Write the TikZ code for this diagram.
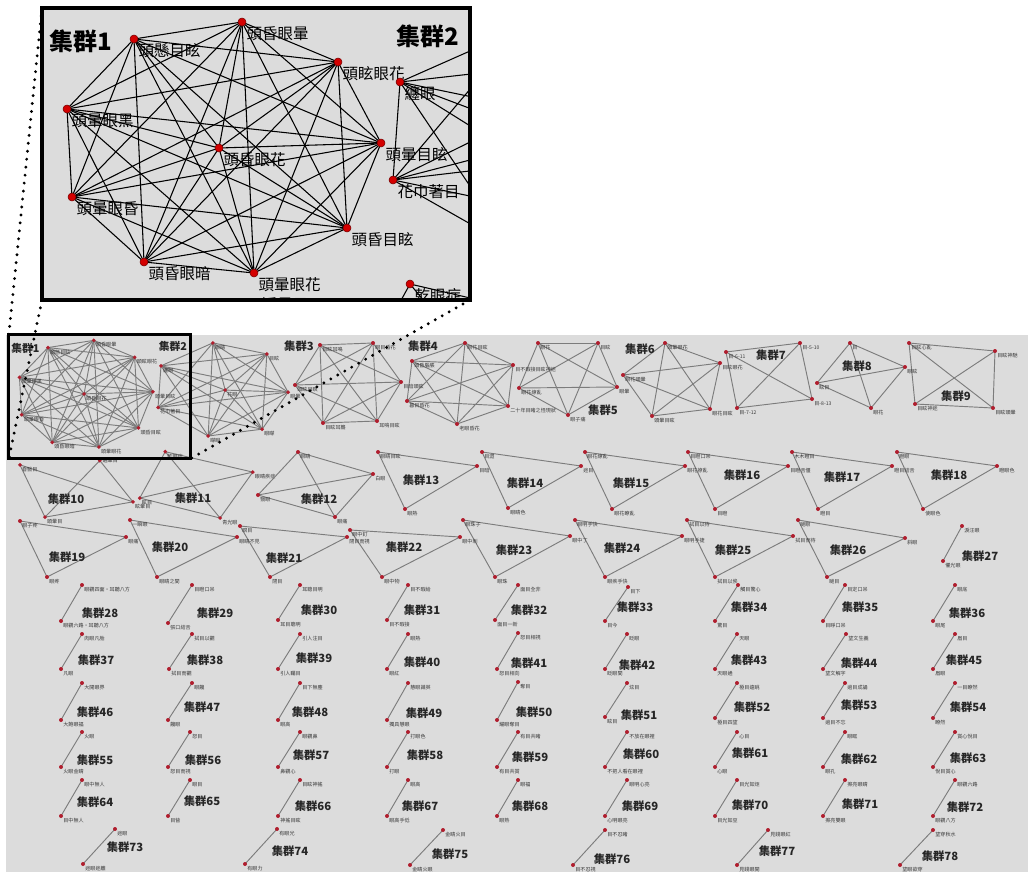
\documentclass[tikz,border=0pt]{standalone}
\usepackage{fontspec}
\newfontfamily\cjk{Noto Sans CJK TC}
\definecolor{pg}{HTML}{DCDCDC}
\definecolor{dred}{HTML}{B01E2E}
\definecolor{ired}{HTML}{D40000}
\definecolor{eg}{HTML}{7C7C7C}
\definecolor{lg}{HTML}{3A3A3A}

\newcommand\Kgraph[2]{%
  \foreach \u [count=\ii] in {#2}{%
    \foreach \v [count=\jj] in {#2}{%
      \ifnum\jj>\ii\relax\draw[#1] (\u) -- (\v);\fi
    }%
  }%
}

% content of the zoomed region, in inset coordinates
\newcommand\InsetContent{%
  \coordinate (a1) at (242,22);
  \coordinate (a2) at (134,39);
  \coordinate (a3) at (338,62);
  \coordinate (a4) at (67,109);
  \coordinate (a5) at (219,148);
  \coordinate (a6) at (381,143);
  \coordinate (a7) at (72,197);
  \coordinate (a8) at (347,228);
  \coordinate (a9) at (144,262);
  \coordinate (a10) at (254,273);
  \coordinate (b1) at (400,82);
  \coordinate (b2) at (393,180);
  \coordinate (b3) at (522,28);
  \coordinate (b4) at (649,54);
  \coordinate (b5) at (551,139);
  \coordinate (b6) at (699,144);
  \coordinate (b7) at (638,231);
  \coordinate (b8) at (511,247);
  \coordinate (c1) at (68,315);
  \coordinate (c2) at (127,438);
  \coordinate (c3) at (334,402);
  \coordinate (c4) at (256,305);
  \coordinate (d1) at (350,393);
  \coordinate (d2) at (616,332);
  \coordinate (d3) at (539,440);
  \coordinate (d4) at (410,284);
  \Kgraph{ed}{a1,a2,a3,a4,a5,a6,a7,a8,a9,a10}
  \Kgraph{ed}{b1,b2,b3,b4,b5,b6,b7,b8}
  \foreach \u/\v in {c1/c2,c1/c3,c2/c3,c2/c4,c3/c4}{\draw[ed] (\u) -- (\v);}
  \Kgraph{ed}{d1,d2,d3,d4}
  \foreach \n/\t in {a1/頭昏眼暈,a2/頭懸目眩,a3/頭眩眼花,a4/頭暈眼黑,a5/頭昏眼花,
      a6/頭暈目眩,a7/頭暈眼昏,a8/頭昏目眩,a9/頭昏眼暗,a10/頭暈眼花,
      b1/纏眼,b2/花巾著目,b3/眼睛,b4/目眩,b5/花眼,b6/眼暈,b7/眼矇,b8/矇眼,
      c1/昏翳目,c2/頭暈目,c3/眩暈目,
      d1/眩目,d2/眼睛疾症,d3/青光眼,d4/乾眼症}{%
    \node[dt,label={[lb]south east:\t}] (\n-d) at (\n) {};
  }
  \node[dt,label={[lb]east:遍暈目}] (c4-d) at (c4) {};
  \node[tt] (title1) at (81,41) {集群1};
  \node[tt] (title2) at (428,36) {集群2};
}

\newcommand\pncoord[3]{\coordinate (#1) at (#2);}
\newcommand\pndot[3]{\node[pdot,label={[plab]south east:#3}] (#1-d) at (#1) {};}
\newcommand\pn{}

\newcommand\PanelNodes{%
\pn{n3a}{320,345}{目眩耳鳴}
\pn{n3b}{373,343}{眼目昏花}
\pn{n3c}{295,385}{頭眩目瞑}
\pn{n3d}{401,382}{目暗頭眩}
\pn{n3e}{323,423}{目眩耳聾}
\pn{n3f}{377,421}{耳鳴目眩}
\pn{n4a}{465,343}{眼花目眩}
\pn{n4b}{412,361}{頭昏腦脹}
\pn{n4c}{513,365}{目不暇接目眩神迷}
\pn{n4d}{407,401}{暮目昏花}
\pn{n4e}{508,406}{二十年目睹之怪現狀}
\pn{n4f}{457,424}{老眼昏花}
\pn{n5a}{538,343}{眼花}
\pn{n5b}{598,343}{目眩}
\pn{n5c}{519,388}{眼花繚亂}
\pn{n5d}{617,387}{眼暈}
\pn{n5e}{568,415}{眼子痛}
\pn{n6a}{665,343}{頭暈眼花}
\pn{n6b}{623,375}{眼花頭暈}
\pn{n6c}{652,416}{頭暈目眩}
\pn{n6d}{720,363}{目眩眼花}
\pn{n6e}{710,409}{眼花目眩}
\pn{n7a}{726,352}{目-6-11}
\pn{n7b}{800,343}{目-5-10}
\pn{n7c}{737,408}{目-7-12}
\pn{n7d}{812,399}{目-8-13}
\pn{n8a}{850,343}{目}
\pn{n8b}{817,383}{眩目}
\pn{n8c}{905,367}{眼眩}
\pn{n8d}{871,408}{眼花}
\pn{n9a}{909,343}{目眩心亂}
\pn{n9b}{995,351}{目眩神馳}
\pn{n9c}{915,404}{目眩神迷}
\pn{n9d}{993,408}{目眩頭暈}
\pn{n12a}{298,452}{眼睛}
\pn{n12b}{373,474}{白眼}
\pn{n12c}{258,495}{翳眼}
\pn{n12d}{335,517}{眼痛}
\pn{t13-a}{378,452}{眼睛目眩}\pn{t13-b}{477,466}{目暗}\pn{t13-c}{405,509}{眼熱}
\pn{t14-a}{482,452}{目澀}\pn{t14-b}{581,466}{迷目}\pn{t14-c}{508,508}{眼睛色}
\pn{t15-a}{585,452}{眼花繚亂}\pn{t15-b}{685,466}{眼花撩亂}\pn{t15-c}{612,509}{眼花瞭亂}
\pn{t16-a}{688,452}{目瞪口呆}\pn{t16-b}{788,466}{目瞪舌僵}\pn{t16-c}{715,509}{目瞪}
\pn{t17-a}{792,452}{木木瞪目}\pn{t17-b}{892,466}{瞪目結舌}\pn{t17-c}{818,509}{瞪目}
\pn{t18-a}{897,452}{瞪眼}\pn{t18-b}{997,466}{瞪眼色}\pn{t18-c}{923,509}{使眼色}
\pn{t19-a}{20,521}{眼子疼}\pn{t19-b}{126,537}{眼痛}\pn{t19-c}{47,577}{眼疼}
\pn{t20-a}{130,520}{一瞬眼}\pn{t20-b}{237,537}{眼睛不見}\pn{t20-c}{157,577}{眼睛之間}
\pn{t21-a}{240,526}{瞑目}\pn{t21-b}{347,537}{閉目而視}\pn{t21-c}{270,577}{閉目}
\pn{t22-a}{350,530}{眼中釘}\pn{t22-b}{460,537}{眼中刺}\pn{t22-c}{382,577}{眼中物}
\pn{t23-a}{463,520}{眼珠子}\pn{t23-b}{570,536}{眼中丁}\pn{t23-c}{495,577}{眼珠}
\pn{t24-a}{575,520}{眼明手快}\pn{t24-b}{682,536}{眼明手捷}\pn{t24-c}{605,577}{眼疾手快}
\pn{t25-a}{687,520}{拭目以待}\pn{t25-b}{793,536}{拭目而待}\pn{t25-c}{715,577}{拭目以俟}
\pn{t26-a}{798,520}{瞇眼}\pn{t26-b}{905,538}{斜眼}\pn{t26-c}{827,577}{瞇目}
\pn{p27-a}{962,526}{淚汪眼}\pn{p27-b}{943,561}{懼光眼}
\pn{p28-a}{82,585}{眼觀四面・耳聽八方}\pn{p28-b}{61,621}{眼觀六路・耳聽八方}
\pn{p29-a}{192,585}{目瞪口呆}\pn{p29-b}{168,623}{張口結舌}
\pn{p30-a}{300,585}{耳聰目明}\pn{p30-b}{278,620}{耳目聰明}
\pn{p31-a}{408,585}{目不暇給}\pn{p31-b}{387,620}{目不暇接}
\pn{p32-a}{518,585}{面目全非}\pn{p32-b}{495,620}{面目一新}
\pn{p33-a}{628,587}{目下}\pn{p33-b}{605,621}{目今}
\pn{p34-a}{738,585}{觸目驚心}\pn{p34-b}{715,621}{驚目}
\pn{p35-a}{845,585}{目定口呆}\pn{p35-b}{823,621}{目睜口呆}
\pn{p36-a}{955,585}{眼底}\pn{p36-b}{933,621}{眼尾}
\pn{p37-a}{82,634}{肉眼凡胎}\pn{p37-b}{61,669}{凡眼}
\pn{p38-a}{192,634}{拭目以觀}\pn{p38-b}{169,669}{拭目而觀}
\pn{p39-a}{300,634}{引人注目}\pn{p39-b}{278,669}{引人矚目}
\pn{p40-a}{408,634}{眼熱}\pn{p40-b}{387,669}{眼紅}
\pn{p41-a}{518,633}{怒目相視}\pn{p41-b}{497,669}{怒目相向}
\pn{p42-a}{627,634}{眨眼}\pn{p42-b}{605,669}{眨眼間}
\pn{p43-a}{737,634}{天眼}\pn{p43-b}{715,669}{天眼通}
\pn{p44-a}{846,634}{望文生義}\pn{p44-b}{823,669}{望文解字}
\pn{p45-a}{955,634}{眉目}\pn{p45-b}{933,669}{眉眼}
\pn{p46-a}{82,683}{大開眼界}\pn{p46-b}{61,720}{大飽眼福}
\pn{p47-a}{192,683}{眼饞}\pn{p47-b}{168,720}{饞眼}
\pn{p48-a}{300,683}{目下無塵}\pn{p48-b}{278,720}{眼高}
\pn{p49-a}{408,683}{慧眼識英}\pn{p49-b}{387,720}{獨具慧眼}
\pn{p50-a}{518,682}{奪目}\pn{p50-b}{497,720}{耀眼奪目}
\pn{p51-a}{627,683}{炫目}\pn{p51-b}{605,717}{眩目}
\pn{p52-a}{737,683}{極目遠眺}\pn{p52-b}{715,718}{極目四望}
\pn{p53-a}{845,683}{過目成誦}\pn{p53-b}{823,718}{過目不忘}
\pn{p54-a}{955,683}{一目瞭然}\pn{p54-b}{933,718}{瞭然}
\pn{p55-a}{82,732}{火眼}\pn{p55-b}{61,767}{火眼金睛}
\pn{p56-a}{190,732}{怒目}\pn{p56-b}{168,767}{怒目而視}
\pn{p57-a}{300,732}{眼觀鼻}\pn{p57-b}{278,767}{鼻觀心}
\pn{p58-a}{408,732}{打眼色}\pn{p58-b}{387,767}{打眼}
\pn{p59-a}{518,732}{有目共睹}\pn{p59-b}{497,767}{有目共賞}
\pn{p60-a}{627,732}{不放在眼裡}\pn{p60-b}{605,767}{不把人看在眼裡}
\pn{p61-a}{737,732}{心目}\pn{p61-b}{715,767}{心眼}
\pn{p62-a}{845,732}{眼眶}\pn{p62-b}{823,767}{眼孔}
\pn{p63-a}{955,732}{賞心悅目}\pn{p63-b}{933,767}{悅目賞心}
\pn{p64-a}{82,780}{眼中無人}\pn{p64-b}{61,816}{目中無人}
\pn{p65-a}{190,780}{眼目}\pn{p65-b}{168,816}{目眥}
\pn{p66-a}{300,780}{目眩神搖}\pn{p66-b}{278,816}{神搖目眩}
\pn{p67-a}{408,780}{眼高}\pn{p67-b}{387,816}{眼高手低}
\pn{p68-a}{518,780}{眼福}\pn{p68-b}{497,816}{眼熟}
\pn{p69-a}{627,780}{眼明心亮}\pn{p69-b}{605,816}{心明眼亮}
\pn{p70-a}{737,780}{目光如炬}\pn{p70-b}{715,816}{目光如豆}
\pn{p71-a}{845,780}{擦亮眼睛}\pn{p71-b}{823,816}{擦亮雙眼}
\pn{p72-a}{955,780}{眼觀六路}\pn{p72-b}{933,816}{眼觀八方}
\pn{p73-a}{115,829}{迷眼}\pn{p73-b}{83,864}{迷眼迷離}
\pn{p74-a}{277,829}{有眼光}\pn{p74-b}{245,864}{有眼力}
\pn{p75-a}{443,830}{金睛火目}\pn{p75-b}{410,865}{金睛火眼}
\pn{p76-a}{605,830}{目不忍睹}\pn{p76-b}{573,865}{目不忍視}
\pn{p77-a}{768,830}{見錢眼紅}\pn{p77-b}{737,865}{見錢眼開}
\pn{p78-a}{933,830}{望穿秋水}\pn{p78-b}{900,865}{望眼欲穿}
}

\begin{document}
\begin{tikzpicture}[x=0.75pt,y=-0.75pt,
  pdot/.style={circle,fill=dred,inner sep=0pt,minimum size=3pt},
  pedge/.style={eg,line width=0.7pt},
  plab/.style={text=lg,inner sep=0.4pt,font=\cjk\fontsize{3.8}{4}\selectfont},
  ptitle/.style={text=black!85,inner sep=0pt,font=\cjk\bfseries\fontsize{8.5}{9}\selectfont},
  frame/.style={draw=black,line width=2.4pt},
  dotl/.style={black,line width=2.4pt,dash pattern=on 0pt off 6pt,line cap=round}]
\useasboundingbox (0,0) rectangle (1028,874);
\fill[white] (0,0) rectangle (1028,874);
% lower panel
\fill[pg] (6,335) rectangle (1028,872);
\begin{scope}[shift={(-9,331)},scale=0.425,transform shape,name prefix=P-,
  dt/.style={circle,fill=dred,inner sep=0pt,minimum size=7pt},
  ed/.style={eg,line width=0.7pt},
  lb/.style={text=lg,inner sep=1pt,font=\cjk\fontsize{9}{9}\selectfont},
  tt/.style={text=black!85,inner sep=0pt,font=\cjk\bfseries\fontsize{19}{19}\selectfont}]
  \InsetContent
\end{scope}
\let\pn\pncoord
\PanelNodes
\Kgraph{pedge}{n3a,n3b,n3c,n3d,n3e,n3f}
\Kgraph{pedge}{n4a,n4b,n4c,n4d,n4e,n4f}
\Kgraph{pedge}{n5a,n5b,n5c,n5d,n5e}
\Kgraph{pedge}{n6a,n6b,n6c,n6d,n6e}
\Kgraph{pedge}{n7a,n7b,n7c,n7d}
\Kgraph{pedge}{n8a,n8b,n8c,n8d}
\Kgraph{pedge}{n9a,n9b,n9c,n9d}
\Kgraph{pedge}{n12a,n12b,n12c,n12d}
\foreach \n in {13,...,26}{\draw[pedge] (t\n-a) -- (t\n-b) -- (t\n-c) -- cycle;}
\foreach \n in {27,...,78}{\draw[pedge] (p\n-a) -- (p\n-b);}
\let\pn\pndot
\PanelNodes
\foreach \n/\x/\y in {3/299/346,4/423/346,5/603/410,6/640/349,7/771/355,8/857/366,9/956/396,
  10/66/499,11/193/498,12/319/499,13/421/480,14/525/483,15/631/483,16/742/475,17/842/477,18/949/475,
  19/67/557,20/170/547,21/284/558,22/404/547,23/514/550,24/622/548,25/733/550,26/848/550,27/980/556,
  28/100/613,29/215/613,30/319/610,31/422/610,32/529/610,33/635/607,34/749/607,35/860/607,36/967/613,
  37/96/660,38/205/660,39/314/658,40/422/662,41/529/663,42/637/665,43/749/660,44/859/663,45/964/660,
  46/95/712,47/202/707,48/310/712,49/424/713,50/534/712,51/639/715,52/752/707,53/859/705,54/968/707,
  55/95/760,56/203/760,57/311/755,58/425/755,59/530/757,60/641/754,61/750/753,62/859/759,63/968/758,
  64/95/802,65/202/801,66/313/806,67/420/806,68/530/806,69/640/806,70/750/805,71/860/804,72/965/807,
  73/125/847,74/290/851,75/450/854,76/612/859,77/777/851,78/940/856}{%
  \node[ptitle] (ttl\n) at (\x,\y) {集群\n};
}
% small frame in panel and zoom lines
\coordinate (sTL) at (8.85,334.4);
\coordinate (sBL) at (8.85,458.5);
\coordinate (sBR) at (190.75,458.5);
\coordinate (iTL) at (42,8);
\coordinate (iBL) at (42,300);
\coordinate (iBR) at (470,300);
\draw[frame] (sTL) rectangle (sBR);
\draw[dotl] (iTL) -- (sTL);
\draw[dotl] (iBL) -- (sBL);
\draw[dotl] (iBR) -- (sBR);
% inset
\begin{scope}[name prefix=I-,
  dt/.style={circle,fill=ired,draw=ired!55!black,line width=0.4pt,inner sep=0pt,minimum size=6pt},
  ed/.style={black,line width=0.8pt},
  lb/.style={inner sep=1pt,font=\cjk\fontsize{11.6}{12}\selectfont},
  tt/.style={inner sep=0pt,font=\cjk\bfseries\fontsize{18}{18}\selectfont}]
  \clip (42,8) rectangle (470,300);
  \fill[pg] (42,8) rectangle (470,300);
  \InsetContent
\end{scope}
\draw[frame] (iTL) rectangle (iBR);
\end{tikzpicture}
\end{document}
